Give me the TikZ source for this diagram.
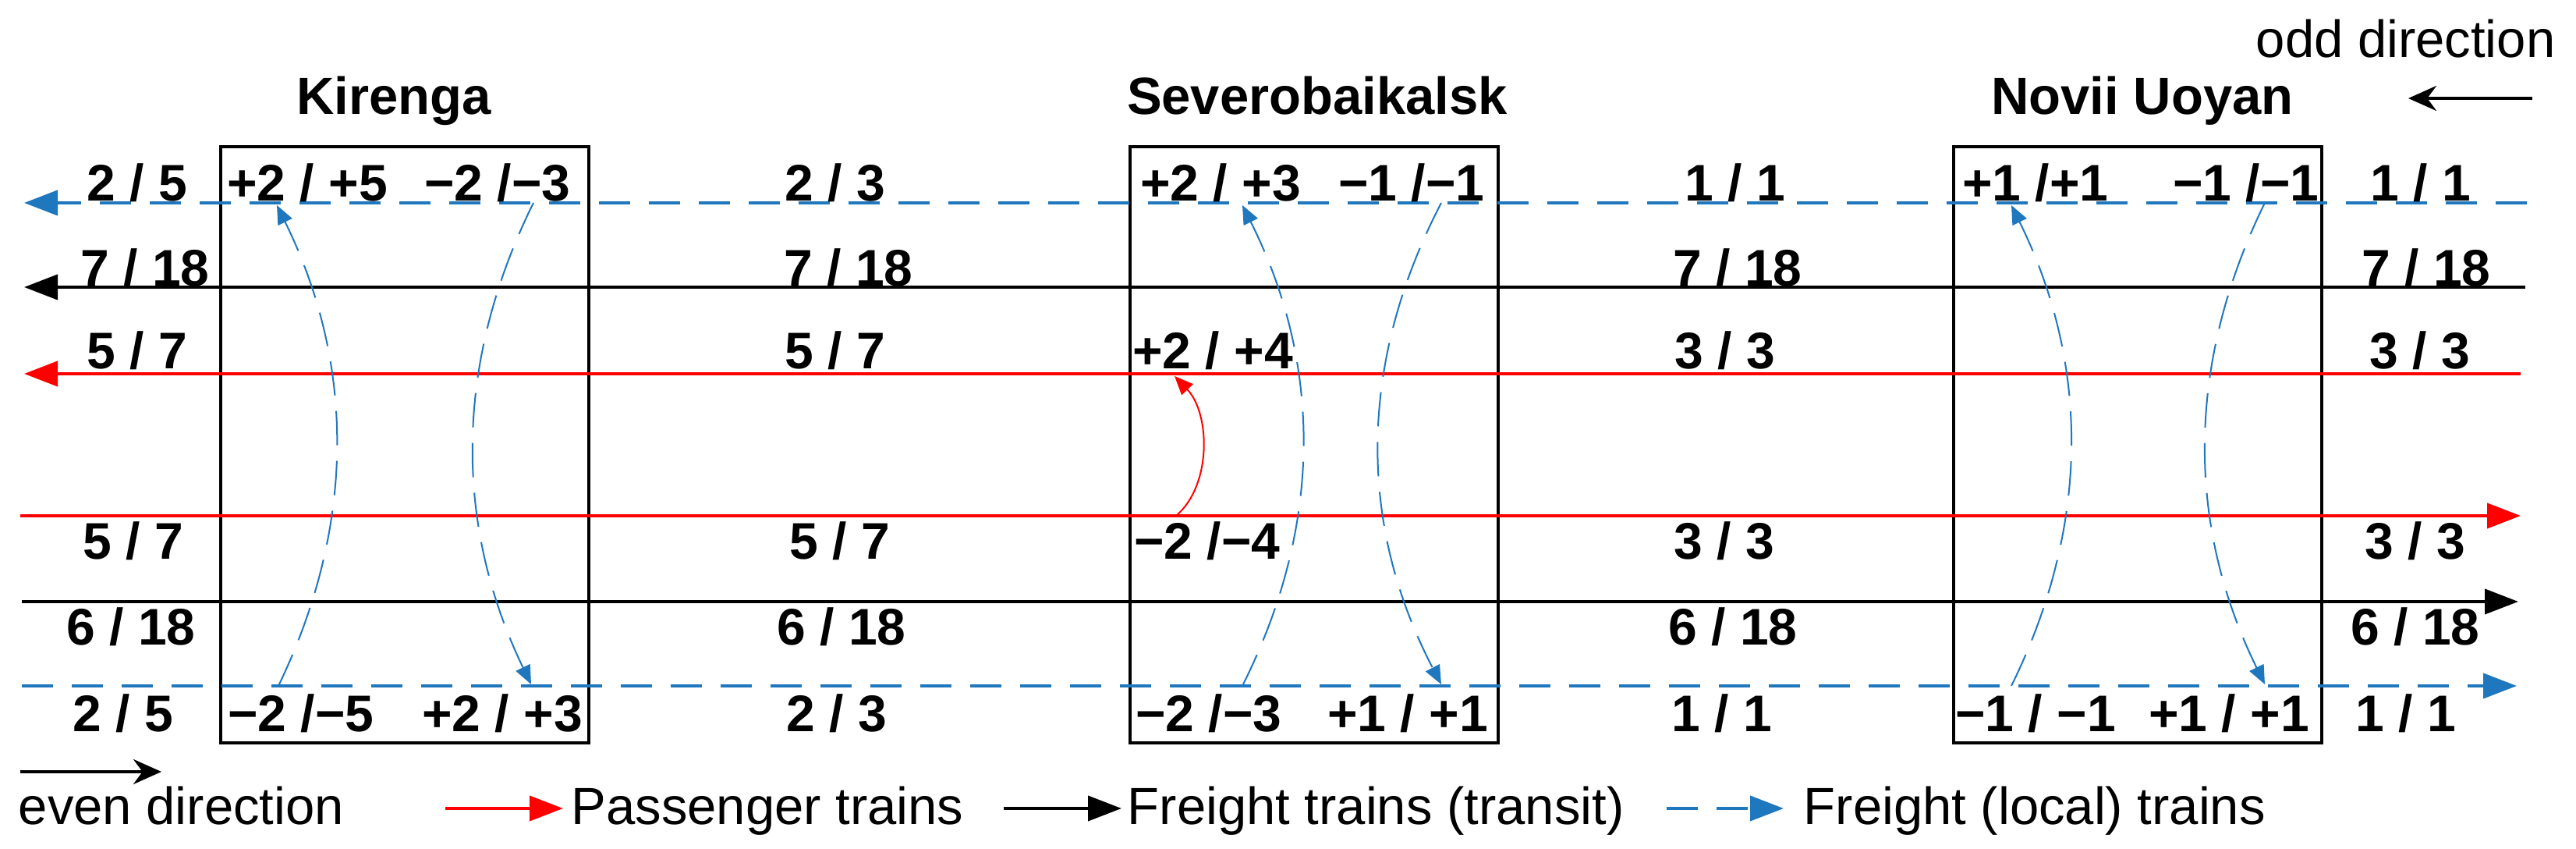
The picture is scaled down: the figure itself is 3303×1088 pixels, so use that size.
\documentclass[tikz,border=0pt]{standalone}
\usepackage{fontspec}
\setmainfont{Liberation Sans}
\usetikzlibrary{arrows.meta}
\definecolor{tblue}{RGB}{31,119,190}
\definecolor{tred}{RGB}{255,0,0}
\begin{document}
\begin{tikzpicture}[x=0.25pt,y=-0.25pt,
  num/.style={font=\fontsize{16.5}{20}\selectfont\bfseries, inner sep=0pt, anchor=base},
  stname/.style={font=\fontsize{16.75}{20}\selectfont\bfseries, inner sep=0pt, anchor=base},
  plain/.style={font=\fontsize{16.75}{20}\selectfont, inner sep=0pt, anchor=base west},
  bighead/.style={-{Triangle[length=10.75pt,width=8pt]}},
  track/.style={line width=1pt},
  ftrack/.style={track, tblue, dash pattern=on 10pt off 6pt},
  curve/.style={line width=0.5pt, tblue, dash pattern=on 11pt off 5pt, -{Triangle[length=6pt,width=5pt]}},
  station/.style={draw, line width=1pt, inner sep=0pt, minimum width=118pt, minimum height=191pt},
  dirarrow/.style={line width=1pt, -{Stealth[length=9pt,width=8pt]}}
]
\useasboundingbox (0,0) rectangle (3303,1088);
\fill[white] (0,0) rectangle (3303,1088);

% station boxes
\node[station] (kir) at (519,570) {};
\node[station] (sev) at (1684.5,570) {};
\node[station] (nov) at (2741,570) {};

% station names
\node[stname] (nkir) at (505,147) {Kirenga};
\node[stname] (nsev) at (1689,147) {Severobaikalsk};
\node[stname] (nnov) at (2747,147) {Novii Uoyan};

% direction hints
\node[plain] (odd) at (2892,74) {odd direction};
\coordinate (oddA) at (3247,126);
\coordinate (oddB) at (3088,126);
\draw[dirarrow] (oddA) -- (oddB);
\node[plain] (even) at (23,1057) {even direction};
\coordinate (evA) at (26,989);
\coordinate (evB) at (207,989);
\draw[dirarrow] (evA) -- (evB);

% track endpoints
\coordinate (bTr) at (3240,260); \coordinate (bTl) at (31,260);
\coordinate (kTr) at (3238,368); \coordinate (kTl) at (31,368);
\coordinate (rTr) at (3232,479); \coordinate (rTl) at (31,479);
\coordinate (rBl) at (26,661);   \coordinate (rBr) at (3232,661);
\coordinate (kBl) at (28,771);   \coordinate (kBr) at (3229,771);
\coordinate (bBl) at (28,879);   \coordinate (bBr) at (3227,879);

% tracks
\draw[ftrack, bighead] (bTr) -- (bTl);
\draw[track, bighead] (kTr) -- (kTl);
\draw[track, tred, bighead] (rTr) -- (rTl);
\draw[track, tred, bighead] (rBl) -- (rBr);
\draw[track, bighead] (kBl) -- (kBr);
\draw[ftrack, bighead] (bBl) -- (bBr);

% transfer curves
\coordinate (kL0) at (357,879); \coordinate (kL1) at (355,263);
\coordinate (kR0) at (684,260); \coordinate (kR1) at (681,877);
\coordinate (sL0) at (1593,879); \coordinate (sL1) at (1593,263);
\coordinate (sR0) at (1848,260); \coordinate (sR1) at (1848,877);
\coordinate (nL0) at (2579,879); \coordinate (nL1) at (2579,263);
\coordinate (nR0) at (2904,260); \coordinate (nR1) at (2904,877);
\coordinate (pc0) at (1508,661); \coordinate (pc1) at (1506,482);
\draw[curve] (kL0) .. controls (456,674) and (456,468) .. (kL1);
\draw[curve] (kR0) .. controls (582,466) and (582,672) .. (kR1);
\draw[curve] (sL0) .. controls (1696,674) and (1696,468) .. (sL1);
\draw[curve] (sR0) .. controls (1741,466) and (1741,672) .. (sR1);
\draw[curve] (nL0) .. controls (2680,674) and (2680,468) .. (nL1);
\draw[curve] (nR0) .. controls (2803,466) and (2803,672) .. (nR1);
\draw[line width=0.5pt, tred, -{Triangle[length=6pt,width=5pt]}] (pc0) .. controls (1554,622) and (1552,530) .. (pc1);

% left column
\node[num] (a1) at (176,258) {2 / 5};
\node[num] (a2) at (186,367) {7 / 18};
\node[num] (a3) at (176,473) {5 / 7};
\node[num] (a4) at (171,717) {5 / 7};
\node[num] (a5) at (168,827) {6 / 18};
\node[num] (a6) at (158,938) {2 / 5};
% Kirenga
\node[num] (k1) at (394,258) {+2 / +5};
\node[num] (k2) at (638,258) {−2 /−3};
\node[num] (k3) at (386,938) {−2 /−5};
\node[num] (k4) at (644,938) {+2 / +3};
% middle 1
\node[num] (m1) at (1071,258) {2 / 3};
\node[num] (m2) at (1088,367) {7 / 18};
\node[num] (m3) at (1071,473) {5 / 7};
\node[num] (m4) at (1077,717) {5 / 7};
\node[num] (m5) at (1079,827) {6 / 18};
\node[num] (m6) at (1073,938) {2 / 3};
% Severobaikalsk
\node[num] (s1) at (1565,258) {+2 / +3};
\node[num] (s2) at (1810,258) {−1 /−1};
\node[num] (s3) at (1555,473) {+2 / +4};
\node[num] (s4) at (1548,717) {−2 /−4};
\node[num] (s5) at (1550,938) {−2 /−3};
\node[num] (s6) at (1805,938) {+1 / +1};
% middle 2
\node[num] (q1) at (2225,258) {1 / 1};
\node[num] (q2) at (2228,367) {7 / 18};
\node[num] (q3) at (2212,473) {3 / 3};
\node[num] (q4) at (2211,717) {3 / 3};
\node[num] (q5) at (2222,827) {6 / 18};
\node[num] (q6) at (2208,938) {1 / 1};
% Novii Uoyan
\node[num] (n1) at (2610,258) {+1 /+1};
\node[num] (n2) at (2880,258) {−1 /−1};
\node[num] (n3) at (2610,938) {−1 / −1};
\node[num] (n4) at (2858,938) {+1 / +1};
% right column
\node[num] (r1) at (3104,258) {1 / 1};
\node[num] (r2) at (3111,367) {7 / 18};
\node[num] (r3) at (3103,473) {3 / 3};
\node[num] (r4) at (3097,717) {3 / 3};
\node[num] (r5) at (3097,827) {6 / 18};
\node[num] (r6) at (3085,938) {1 / 1};

% legend
\coordinate (lgR0) at (571,1036); \coordinate (lgR1) at (722,1036);
\coordinate (lgK0) at (1287,1036); \coordinate (lgK1) at (1438,1036);
\coordinate (lgB0) at (2137,1036); \coordinate (lgB1) at (2287,1036);
\draw[track, tred, bighead] (lgR0) -- (lgR1);
\draw[track, bighead] (lgK0) -- (lgK1);
\draw[ftrack, bighead] (lgB0) -- (lgB1);
\node[plain] (lgRt) at (732,1057) {Passenger trains};
\node[plain] (lgKt) at (1445,1057) {Freight trains (transit)};
\node[plain] (lgBt) at (2312,1057) {Freight (local) trains};
\end{tikzpicture}
\end{document}
